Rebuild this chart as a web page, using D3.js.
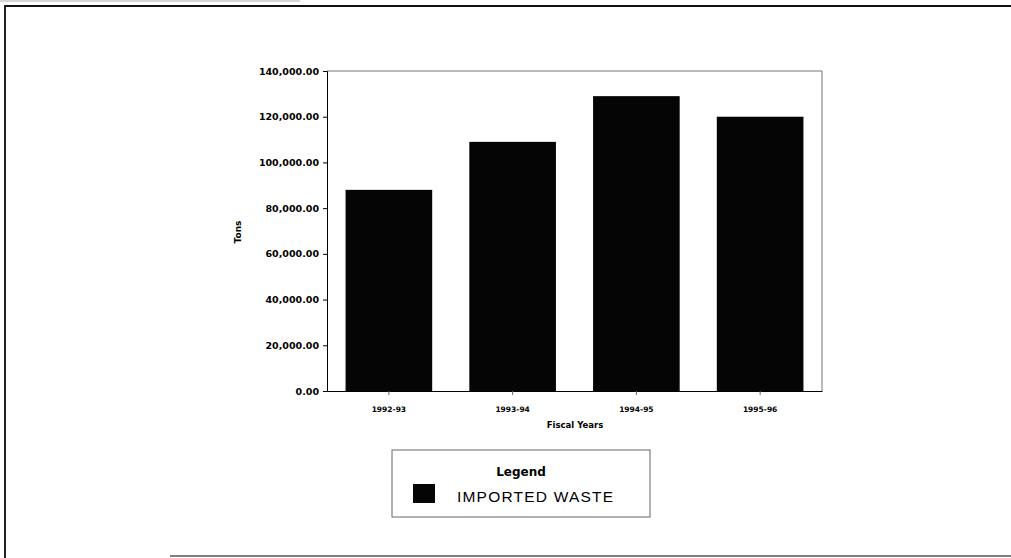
<!DOCTYPE html>
<html>
<head>
<meta charset="utf-8">
<script src="https://cdn.jsdelivr.net/npm/d3@7"></script>
<style>
  html, body { margin: 0; padding: 0; background: #fff; }
  svg { display: block; font-family: "Liberation Sans", Arial, sans-serif; }
</style>
</head>
<body>
<svg id="chart" width="1011" height="558"></svg>
<script>
// Imported waste tonnage by fiscal year
const years = ["1992-93", "1993-94", "1994-95", "1995-96"];
const tons = [88000, 109000, 129000, 120000];
const yTicks = [0, 20000, 40000, 60000, 80000, 100000, 120000, 140000];
const seriesName = "IMPORTED WASTE";

const svg = d3.select("#chart");
const plot = { left: 327, right: 822, top: 71, bottom: 391 };
const boldFont = "'DejaVu Sans', sans-serif";

// Outer page frame
svg.append("line").attr("x1", 5).attr("x2", 1011).attr("y1", 6).attr("y2", 6)
  .attr("stroke", "#111").attr("stroke-width", 2.2);
svg.append("line").attr("x1", 5).attr("x2", 5).attr("y1", 5).attr("y2", 558)
  .attr("stroke", "#222").attr("stroke-width", 2);
svg.append("line").attr("x1", 170).attr("x2", 1011).attr("y1", 556).attr("y2", 556)
  .attr("stroke", "#555").attr("stroke-width", 1.5);
svg.append("line").attr("x1", 0).attr("x2", 300).attr("y1", 1).attr("y2", 1)
  .attr("stroke", "#aaa").attr("stroke-width", 1);

const x = d3.scaleBand().domain(years).range([plot.left, plot.right])
  .paddingInner(0.3).paddingOuter(0.15);
const y = d3.scaleLinear().domain([0, 140000]).range([plot.bottom, plot.top]);

// Plot area frame (top and right edges)
svg.append("path")
  .attr("d", `M${plot.left},${plot.top}H${plot.right}V${plot.bottom}`)
  .attr("fill", "none").attr("stroke", "#777").attr("stroke-width", 1);

// Bars
svg.append("g").selectAll("rect").data(years).join("rect")
  .attr("x", d => x(d))
  .attr("width", x.bandwidth())
  .attr("y", (d, i) => y(tons[i]))
  .attr("height", (d, i) => y(0) - y(tons[i]))
  .attr("fill", "#050505");

// Y axis
const yAxis = svg.append("g").attr("transform", `translate(${plot.left},0)`)
  .call(d3.axisLeft(y).tickValues(yTicks).tickSize(4).tickPadding(4)
    .tickFormat(d => d3.format(",.2f")(d)));
yAxis.selectAll("text").attr("font-family", boldFont).attr("font-size", 9.5)
  .attr("font-weight", "bold").attr("fill", "#000");
yAxis.select(".domain").attr("stroke", "#000");

// X axis
const xAxis = svg.append("g").attr("transform", `translate(0,${plot.bottom})`)
  .call(d3.axisBottom(x).tickSize(4).tickPadding(12).tickSizeOuter(0));
xAxis.selectAll("text").attr("font-family", boldFont).attr("font-size", 7.5)
  .attr("font-weight", "bold").attr("fill", "#000");
xAxis.select(".domain").attr("stroke", "#000");
xAxis.selectAll(".tick line").attr("stroke", "#666");

// Axis titles
svg.append("text").attr("x", 575).attr("y", 428)
  .attr("text-anchor", "middle").attr("font-family", boldFont)
  .attr("font-size", 8.5).attr("font-weight", "bold").text("Fiscal Years");
svg.append("text").attr("transform", "translate(241,232) rotate(-90)")
  .attr("text-anchor", "middle").attr("font-family", boldFont)
  .attr("font-size", 9).attr("font-weight", "bold").text("Tons");

// Legend
const lg = svg.append("g");
lg.append("rect").attr("x", 392).attr("y", 450).attr("width", 258).attr("height", 67)
  .attr("fill", "#fff").attr("stroke", "#666").attr("stroke-width", 1);
lg.append("text").attr("x", 521).attr("y", 476).attr("text-anchor", "middle")
  .attr("font-family", boldFont).attr("font-size", 12).attr("font-weight", "bold")
  .text("Legend");
lg.append("rect").attr("x", 413).attr("y", 484).attr("width", 22).attr("height", 19)
  .attr("fill", "#050505");
lg.append("text").attr("x", 457).attr("y", 502)
  .attr("font-size", 15.5).attr("letter-spacing", "1.2").text(seriesName);
</script>
</body>
</html>
